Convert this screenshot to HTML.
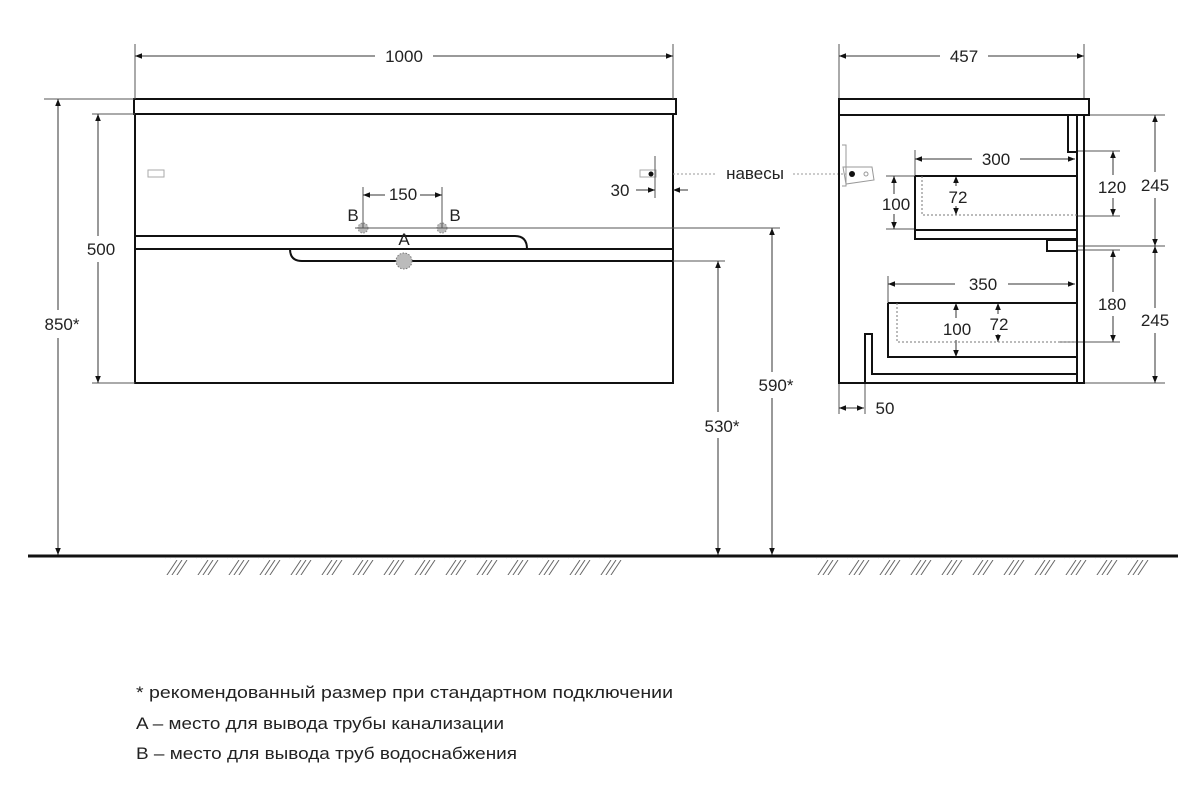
<!DOCTYPE html>
<html><head><meta charset="utf-8"><style>
html,body{margin:0;padding:0;background:#fff;}
svg{display:block;}
text{font-family:"Liberation Sans","DejaVu Sans",sans-serif;fill:#222;}
</style></head><body>
<svg width="1200" height="792" viewBox="0 0 1200 792" xmlns="http://www.w3.org/2000/svg">
<defs>
<marker id="a" viewBox="0 0 10 10" refX="10" refY="5" markerWidth="9" markerHeight="7" orient="auto-start-reverse" markerUnits="userSpaceOnUse"><path d="M0,1 L10,5 L0,9 z" fill="#111"/></marker>
<pattern id="h" x="165" y="0" width="31" height="20" patternUnits="userSpaceOnUse">
<g stroke="#666" stroke-width="1"><line x1="12" y1="0" x2="0" y2="18"/><line x1="17" y1="0" x2="5" y2="18"/><line x1="22" y1="0" x2="10" y2="18"/></g>
</pattern>
</defs>
<g fill="none" stroke="#111">
<rect x="134" y="99" width="542" height="15" stroke-width="2"/>
<rect x="135" y="114" width="538" height="269" stroke-width="2"/>
<path d="M135 236 H515 Q527 236 527 249" stroke-width="2"/>
<line x1="135" y1="249" x2="673" y2="249" stroke-width="2"/>
<path d="M290 249 Q290 261 302 261 H673" stroke-width="2"/>
<rect x="148" y="170" width="16" height="7" stroke="#aaa" stroke-width="1"/>
<rect x="640" y="170" width="16" height="7" stroke="#aaa" stroke-width="1"/>
</g>
<circle cx="651" cy="174" r="2.5" fill="#111"/>
<circle cx="363" cy="228" r="5" fill="#bbb" stroke="#888" stroke-dasharray="1.5 1.5"/>
<circle cx="442" cy="228" r="5" fill="#bbb" stroke="#888" stroke-dasharray="1.5 1.5"/>
<circle cx="404" cy="261" r="8" fill="#bbb" stroke="#777" stroke-dasharray="1.5 1.5"/>

<g stroke="#555" stroke-width="1" fill="none">
<line x1="135" y1="44" x2="135" y2="99"/><line x1="673" y1="44" x2="673" y2="99"/>
<line x1="839" y1="44" x2="839" y2="99"/><line x1="1084" y1="44" x2="1084" y2="99"/>
<line x1="44" y1="99" x2="134" y2="99"/>
<line x1="92" y1="114" x2="135" y2="114"/><line x1="92" y1="383" x2="135" y2="383"/>
<line x1="355" y1="228" x2="780" y2="228"/>
<line x1="673" y1="261" x2="725" y2="261"/>
<line x1="363" y1="187" x2="363" y2="228"/><line x1="442" y1="187" x2="442" y2="228"/>
<line x1="655" y1="156" x2="655" y2="198"/>
<line x1="673" y1="174" x2="716" y2="174" stroke-dasharray="2 2" stroke="#999"/>
<line x1="793" y1="174" x2="846" y2="174" stroke-dasharray="2 2" stroke="#999"/>
<line x1="1084" y1="115" x2="1165" y2="115"/><line x1="1084" y1="383" x2="1165" y2="383"/>
<line x1="1077" y1="246" x2="1165" y2="246"/>
<line x1="1077" y1="151" x2="1120" y2="151"/><line x1="1077" y1="216" x2="1120" y2="216"/>
<line x1="1077" y1="250" x2="1120" y2="250"/><line x1="1060" y1="342" x2="1120" y2="342"/>
<line x1="886" y1="176" x2="915" y2="176"/><line x1="886" y1="229" x2="915" y2="229"/>
<line x1="915" y1="150" x2="915" y2="176"/><line x1="888" y1="276" x2="888" y2="303"/>
<line x1="839" y1="383" x2="839" y2="414"/><line x1="865" y1="383" x2="865" y2="414"/>
</g>

<g stroke="#333" stroke-width="1" fill="none" marker-start="url(#a)" marker-end="url(#a)">
<line x1="135" y1="56" x2="375" y2="56" marker-end="none"/>
<line x1="433" y1="56" x2="673" y2="56" marker-start="none"/>
<line x1="839" y1="56" x2="940" y2="56" marker-end="none"/>
<line x1="988" y1="56" x2="1084" y2="56" marker-start="none"/>
<line x1="58" y1="99" x2="58" y2="310" marker-end="none"/>
<line x1="58" y1="338" x2="58" y2="555" marker-start="none"/>
<line x1="98" y1="114" x2="98" y2="236" marker-end="none"/>
<line x1="98" y1="262" x2="98" y2="383" marker-start="none"/>
<line x1="772" y1="228" x2="772" y2="372" marker-end="none"/>
<line x1="772" y1="398" x2="772" y2="555" marker-start="none"/>
<line x1="718" y1="261" x2="718" y2="412" marker-end="none"/>
<line x1="718" y1="438" x2="718" y2="555" marker-start="none"/>
<line x1="363" y1="195" x2="385" y2="195" marker-end="none"/>
<line x1="420" y1="195" x2="442" y2="195" marker-start="none"/>
<line x1="636" y1="190" x2="655" y2="190" marker-start="none"/>
<line x1="688" y1="190" x2="673" y2="190" marker-start="none"/>
<line x1="915" y1="159" x2="972" y2="159" marker-end="none"/>
<line x1="1020" y1="159" x2="1075" y2="159" marker-start="none"/>
<line x1="888" y1="284" x2="955" y2="284" marker-end="none"/>
<line x1="1008" y1="284" x2="1075" y2="284" marker-start="none"/>
<line x1="1113" y1="151" x2="1113" y2="175" marker-end="none"/>
<line x1="1113" y1="198" x2="1113" y2="216" marker-start="none"/>
<line x1="1113" y1="250" x2="1113" y2="292" marker-end="none"/>
<line x1="1113" y1="316" x2="1113" y2="342" marker-start="none"/>
<line x1="1155" y1="115" x2="1155" y2="172" marker-end="none"/>
<line x1="1155" y1="198" x2="1155" y2="246" marker-start="none"/>
<line x1="1155" y1="246" x2="1155" y2="308" marker-end="none"/>
<line x1="1155" y1="333" x2="1155" y2="383" marker-start="none"/>
<line x1="894" y1="176" x2="894" y2="194" marker-end="none"/>
<line x1="894" y1="214" x2="894" y2="229" marker-start="none"/>
<line x1="956" y1="176" x2="956" y2="186" marker-end="none"/>
<line x1="956" y1="206" x2="956" y2="215" marker-start="none"/>
<line x1="956" y1="303" x2="956" y2="318" marker-end="none"/>
<line x1="956" y1="340" x2="956" y2="357" marker-start="none"/>
<line x1="998" y1="303" x2="998" y2="314" marker-end="none"/>
<line x1="998" y1="334" x2="998" y2="342" marker-start="none"/>
<line x1="839" y1="408" x2="864" y2="408"/>
</g>

<g fill="none" stroke="#111" stroke-width="2">
<rect x="839" y="99" width="250" height="16"/>
<path d="M839 115 V383 H1084 V115"/>
<line x1="1077" y1="115" x2="1077" y2="383"/>
<path d="M1068 115 V152 H1077"/>
<path d="M915 176 H1077 M915 176 V239 H1077 M915 230 H1077"/>
<path d="M1077 240 H1047 V251 H1077"/>
<path d="M888 303 H1077 M888 303 V357 H1077"/>
<path d="M865 383 V334 H872 V374 H1077"/>
</g>
<g fill="none" stroke="#777" stroke-width="1" stroke-dasharray="2 2">
<path d="M922 176 V215 H1077"/>
<path d="M897 303 V342 H1077"/>
</g>
<g fill="none" stroke="#999" stroke-width="1">
<path d="M842 145 H846 V186 H842"/>
<path d="M843 167 H872 L874 180 L846 184 Z"/>
<circle cx="866" cy="174" r="2"/>
</g>
<circle cx="852" cy="174" r="3" fill="#111"/>

<line x1="28" y1="556" x2="1178" y2="556" stroke="#111" stroke-width="3"/>
<rect x="165" y="558" width="462" height="17" fill="url(#h)"/>
<rect x="816" y="558" width="334" height="17" fill="url(#h)"/>

<g font-size="17" text-anchor="middle">
<text x="404" y="62">1000</text>
<text x="964" y="62">457</text>
<text x="62" y="330">850*</text>
<text x="101" y="255">500</text>
<text x="776" y="391">590*</text>
<text x="722" y="432">530*</text>
<text x="403" y="200">150</text>
<text x="353" y="221">B</text>
<text x="455" y="221">B</text>
<text x="404" y="245">A</text>
<text x="620" y="196">30</text>
<text x="755" y="179">навесы</text>
<text x="996" y="165">300</text>
<text x="983" y="290">350</text>
<text x="1112" y="193">120</text>
<text x="1112" y="310">180</text>
<text x="1155" y="191">245</text>
<text x="1155" y="326">245</text>
<text x="896" y="210">100</text>
<text x="958" y="203">72</text>
<text x="957" y="335">100</text>
<text x="999" y="330">72</text>
<text x="885" y="414">50</text>
</g>
<g font-size="17">
<text x="136" y="698" textLength="537" lengthAdjust="spacingAndGlyphs">* рекомендованный размер при стандартном подключении</text>
<text x="136" y="729" textLength="368" lengthAdjust="spacingAndGlyphs">A – место для вывода трубы канализации</text>
<text x="136" y="759" textLength="381" lengthAdjust="spacingAndGlyphs">B – место для вывода труб водоснабжения</text>
</g>
</svg>
</body></html>
